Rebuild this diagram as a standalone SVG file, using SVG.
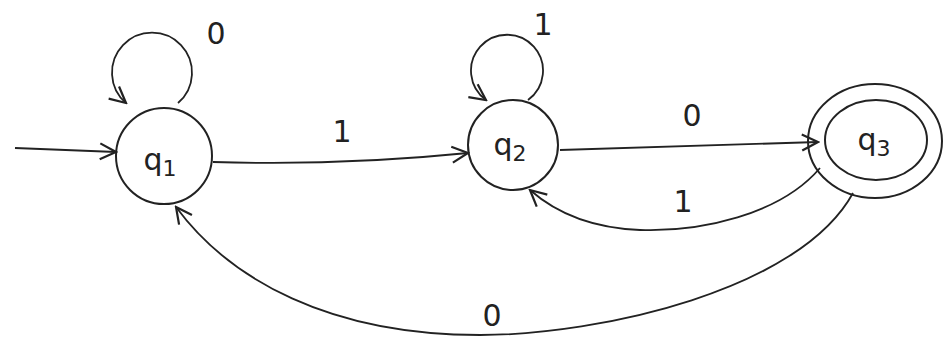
<svg xmlns="http://www.w3.org/2000/svg" width="950" height="346" viewBox="0 0 950 346">
<style>
.st{fill:none;stroke:#222;stroke-width:2}
.ed{fill:none;stroke:#222;stroke-width:1.8;marker-end:url(#ah)}
.lb{font-family:"DejaVu Sans",sans-serif;font-size:30px;fill:#222;text-anchor:middle}
.sub{font-size:22px}
</style>
<defs>
<marker id="ah" viewBox="0 0 20 20" refX="18" refY="10" markerWidth="20" markerHeight="20" markerUnits="userSpaceOnUse" orient="auto">
<path d="M2,2 L18,10 L2,18" fill="none" stroke="#222" stroke-width="2.2"/>
</marker>
</defs>
<rect width="950" height="346" fill="#fff"/>
<g id="q1">
<circle class="st" cx="164" cy="156" r="48"/>
<text class="lb" x="160" y="170">q<tspan class="sub" dy="6">1</tspan></text>
</g>
<g id="q2">
<circle class="st" cx="513" cy="145" r="45"/>
<text class="lb" x="510" y="155">q<tspan class="sub" dy="6">2</tspan></text>
</g>
<g id="q3">
<ellipse class="st" cx="875" cy="141" rx="67" ry="57"/>
<ellipse class="st" cx="876" cy="140" rx="51" ry="40"/>
<text class="lb" x="874" y="150">q<tspan class="sub" dy="6">3</tspan></text>
</g>
<g id="connectors">
<path class="ed" d="M15,148 L116,152"/>
<path class="ed" d="M178,103 A40,40 0 1 0 126,103"/>
<path class="ed" d="M528,100 A36,36 0 1 0 486,100"/>
<path class="ed" d="M213,162 Q340,166 468,153"/>
<path class="ed" d="M560,150 L818,142"/>
<path class="ed" d="M820,168 C780,215 700,232 640,230 C590,228 555,212 530,190"/>
<path class="ed" d="M853,193 C800,290 600,335 480,335 C330,335 230,280 176,207"/>
<text class="lb" x="216" y="44">0</text>
<text class="lb" x="543" y="35">1</text>
<text class="lb" x="342" y="142">1</text>
<text class="lb" x="692" y="126">0</text>
<text class="lb" x="683" y="212">1</text>
<text class="lb" x="492" y="326">0</text>
</g>
</svg>
